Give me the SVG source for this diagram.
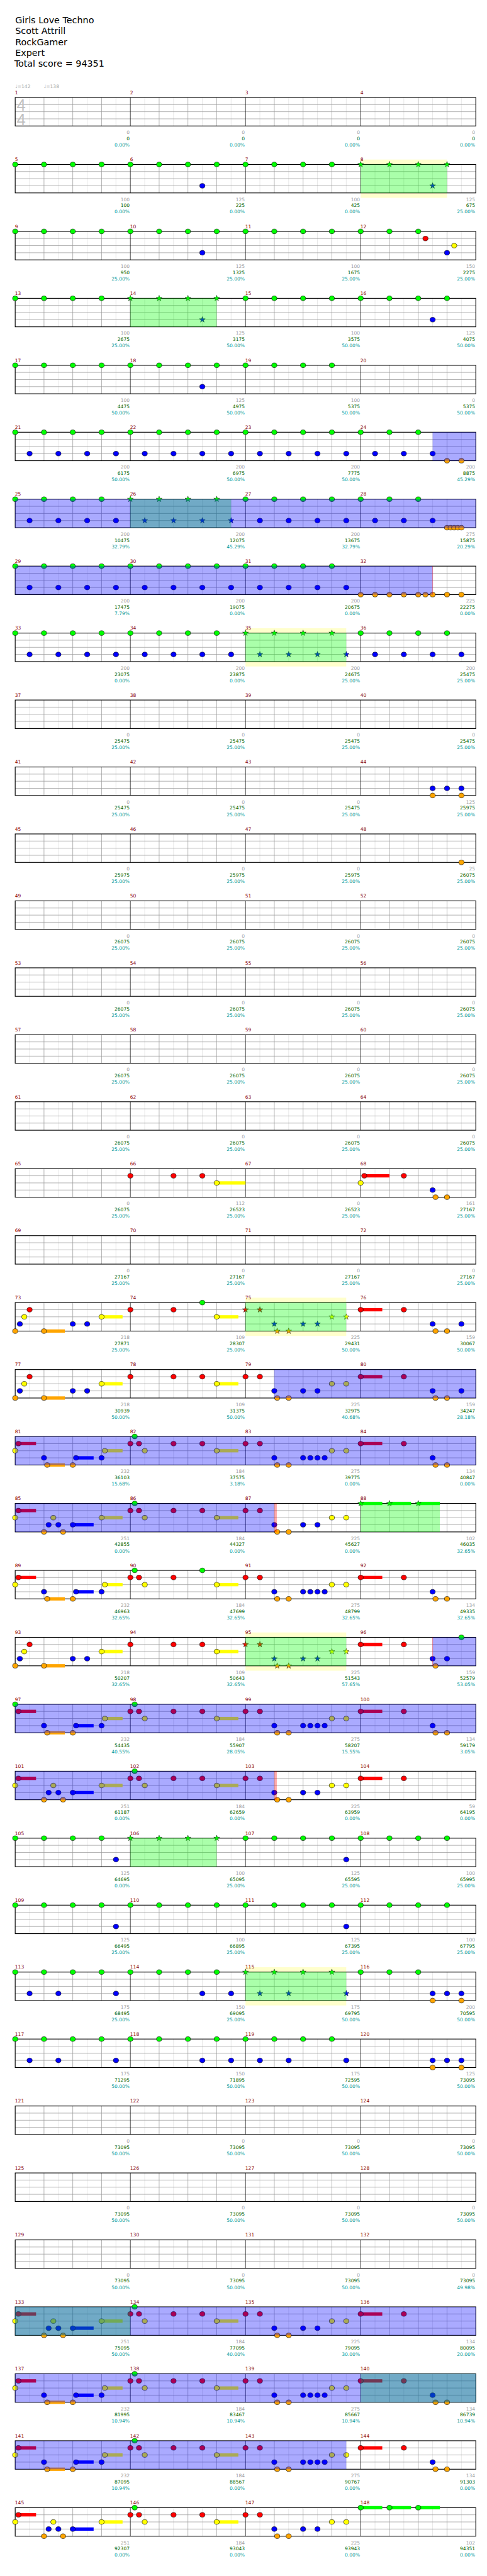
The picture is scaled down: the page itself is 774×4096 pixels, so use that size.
<svg xmlns="http://www.w3.org/2000/svg" xmlns:xlink="http://www.w3.org/1999/xlink" width="774" height="4096" viewBox="0 0 774 4096">
<style>
text{font-family:"DejaVu Sans",sans-serif}
.t{font-size:19px;fill:#000}
.mn{font-size:10px;fill:#8b0000}
.gr{font-size:10px;fill:#a0a0a0;text-anchor:end}
.gn{font-size:10px;fill:#006400;text-anchor:end}
.pc{font-size:10px;fill:#009999;text-anchor:end}
.tp{font-size:10px;fill:#aaa}
.ts{font-family:"Liberation Sans",sans-serif;font-size:34px;fill:#c0c0c0}
.g{fill:#00ff00}.r{fill:#ff0000}.y{fill:#ffff00}.b{fill:#0000ff}.o{fill:#ffa500}
.sp{fill:#00ff00;fill-opacity:.333}
.od{fill:#0000ff;fill-opacity:.333}
.yb{fill:#ffff00;fill-opacity:.2}
.pk{fill:#ff0000;fill-opacity:.333}
</style>
<defs>
<g id="staff">
<path d="M62.3 0V60M122.9 0V60M183.5 0V60M244.1 0V60M304.7 0V60M365.3 0V60M425.9 0V60M486.5 0V60M547.1 0V60M607.7 0V60M668.3 0V60M728.9 0V60M789.5 0V60M850.1 0V60M910.7 0V60M971.3 0V60" stroke="#e0e0e0" stroke-width="1" fill="none"/>
<path d="M92.6 0V60M153.2 0V60M213.8 0V60M335 0V60M395.6 0V60M456.2 0V60M577.4 0V60M638 0V60M698.6 0V60M819.8 0V60M880.4 0V60M941 0V60" stroke="#999" stroke-width="1" fill="none"/>
<path d="M32 15H1001.6M32 30H1001.6M32 45H1001.6" stroke="#999" stroke-width="1" fill="none"/>
<path d="M274.4 0V60M516.8 0V60M759.2 0V60" stroke="#000" stroke-width="1" fill="none"/>
<rect x="32" y="0" width="969.6" height="60" fill="none" stroke="#000" stroke-width="1.5"/>
</g>
<ellipse id="c" cx="0" cy="0" rx="5.5" ry="5" stroke="#000" stroke-width=".8"/>
<path id="s" d="M0,-6.5L1.53,-2.1 6.18,-2.01 2.47,.8 3.82,5.26 0,2.6 -3.82,5.26 -2.47,.8 -6.18,-2.01 -1.53,-2.1Z" stroke="#000" stroke-width=".6"/>
<g id="G4"><use href="#c" x="32"/><use href="#c" x="92.6"/><use href="#c" x="153.2"/><use href="#c" x="213.8"/></g>
<g id="S4"><use href="#s" x="32"/><use href="#s" x="92.6"/><use href="#s" x="153.2"/><use href="#s" x="213.8"/></g>
<g id="B4"><use href="#c" x="62.3" y="45"/><use href="#c" x="122.9" y="45"/><use href="#c" x="183.5" y="45"/><use href="#c" x="244.1" y="45"/></g>
<g id="BS4"><use href="#s" x="62.3" y="45"/><use href="#s" x="122.9" y="45"/><use href="#s" x="183.5" y="45"/><use href="#s" x="244.1" y="45"/></g>
<g id="pA">
<rect class="r" x="38.7" y="11.5" width="37.2" height="7"/><rect class="r" x="759.2" y="11.5" width="45.5" height="7"/>
<rect class="y" x="220.6" y="26.5" width="37.4" height="7"/><rect class="y" x="456.2" y="26.5" width="45.5" height="7"/>
<rect class="b" x="160" y="41.5" width="37.1" height="7"/><rect class="o" x="99.3" y="56.5" width="37.2" height="7"/>
<use href="#c" class="g" x="283.5"/>
<use href="#c" class="r" x="38.7" y="15"/><use href="#c" class="r" x="274.4" y="15"/><use href="#c" class="r" x="292.6" y="15"/><use href="#c" class="r" x="365.3" y="15"/><use href="#c" class="r" x="516.8" y="15"/><use href="#c" class="r" x="547.1" y="15"/><use href="#c" class="r" x="759.2" y="15"/><use href="#c" class="r" x="850.1" y="15"/>
<use href="#c" class="y" x="220.6" y="30"/><use href="#c" class="y" x="304.7" y="30"/><use href="#c" class="y" x="456.2" y="30"/><use href="#c" class="y" x="698.6" y="30"/><use href="#c" class="y" x="728.9" y="30"/>
<use href="#c" class="b" x="92.6" y="45"/><use href="#c" class="b" x="160" y="45"/><use href="#c" class="b" x="213.8" y="45"/><use href="#c" class="b" x="577.4" y="45"/><use href="#c" class="b" x="638" y="45"/><use href="#c" class="b" x="653.2" y="45"/><use href="#c" class="b" x="668.3" y="45"/><use href="#c" class="b" x="683.5" y="45"/><use href="#c" class="b" x="910.7" y="45"/>
<use href="#c" class="o" x="99.3" y="60"/><use href="#c" class="o" x="153.2" y="60"/><use href="#c" class="o" x="583.5" y="60"/><use href="#c" class="o" x="607.7" y="60"/><use href="#c" class="o" x="916.8" y="60"/><use href="#c" class="o" x="941" y="60"/>
</g>
<g id="pB">
<rect class="r" x="38.7" y="11.5" width="37.2" height="7"/>
<rect class="y" x="213.8" y="26.5" width="44.2" height="7"/><rect class="y" x="456.2" y="26.5" width="45.5" height="7"/>
<rect class="b" x="153.2" y="41.5" width="43.9" height="7"/>
<use href="#c" class="g" x="283.5"/>
<use href="#c" class="r" x="38.7" y="15"/><use href="#c" class="r" x="274.4" y="15"/><use href="#c" class="r" x="292.6" y="15"/><use href="#c" class="r" x="365.3" y="15"/><use href="#c" class="r" x="425.9" y="15"/><use href="#c" class="r" x="516.8" y="15"/><use href="#c" class="r" x="547.1" y="15"/>
<use href="#c" class="y" x="32" y="30"/><use href="#c" class="y" x="112.3" y="30"/><use href="#c" class="y" x="213.8" y="30"/><use href="#c" class="y" x="304.7" y="30"/><use href="#c" class="y" x="456.2" y="30"/><use href="#c" class="y" x="698.6" y="30"/><use href="#c" class="y" x="728.9" y="30"/>
<use href="#c" class="b" x="102.4" y="45"/><use href="#c" class="b" x="122.9" y="45"/><use href="#c" class="b" x="153.2" y="45"/><use href="#c" class="b" x="577.4" y="45"/><use href="#c" class="b" x="638" y="45"/><use href="#c" class="b" x="668.3" y="45"/>
<use href="#c" class="o" x="92.6" y="60"/><use href="#c" class="o" x="132.7" y="60"/><use href="#c" class="o" x="583.5" y="60"/><use href="#c" class="o" x="607.7" y="60"/>
</g>
<g id="pC">
<rect class="r" x="759.2" y="11.5" width="45.5" height="7"/><rect class="y" x="213.8" y="26.5" width="44.2" height="7"/><rect class="y" x="456.2" y="26.5" width="45.5" height="7"/><rect class="o" x="92.6" y="56.5" width="43.9" height="7"/>
<use href="#c" class="r" x="62.3" y="15"/><use href="#c" class="r" x="274.4" y="15"/><use href="#c" class="r" x="365.3" y="15"/><use href="#c" class="r" x="759.2" y="15"/><use href="#c" class="r" x="850.1" y="15"/>
<use href="#c" class="y" x="51.1" y="30"/><use href="#c" class="y" x="213.8" y="30"/><use href="#c" class="y" x="456.2" y="30"/>
<use href="#c" class="b" x="41.8" y="45"/><use href="#c" class="b" x="153.2" y="45"/><use href="#c" class="b" x="183.5" y="45"/><use href="#c" class="b" x="910.7" y="45"/>
<use href="#c" class="o" x="32" y="60"/><use href="#c" class="o" x="92.6" y="60"/><use href="#c" class="o" x="916.8" y="60"/>
</g>
</defs>
<rect width="774" height="4096" fill="#fff"/>
<g transform="scale(0.755)">
<g id="header">
<text class="t" x="32" y="49">Girls Love Techno</text>
<text class="t" x="32" y="72">Scott Attrill</text>
<text class="t" x="32" y="95">RockGamer</text>
<text class="t" x="32" y="118">Expert</text>
<text class="t" x="30" y="141">Total score = 94351</text>
</g>

<g id="row1" transform="translate(0,205.3)">
<text class="tp" x="32" y="-20.3">♩=142</text><text class="tp" x="92.3" y="-20.3">♩=138</text>
<text class="mn" y="-7"><tspan x="31.5">1</tspan><tspan x="273.9">2</tspan><tspan x="516.3">3</tspan><tspan x="758.7">4</tspan></text>
<use href="#staff"/>
<text class="ts" x="35" y="28">4</text><text class="ts" x="35" y="58">4</text>
<text class="gr" y="77"><tspan x="272.9">0</tspan><tspan x="515.3">0</tspan><tspan x="757.7">0</tspan><tspan x="1000.1">0</tspan></text>
<text class="gn" y="90"><tspan x="272.9">0</tspan><tspan x="515.3">0</tspan><tspan x="757.7">0</tspan><tspan x="1000.1">0</tspan></text>
<text class="pc" y="103.3"><tspan x="272.9">0.00%</tspan><tspan x="515.3">0.00%</tspan><tspan x="757.7">0.00%</tspan><tspan x="1000.1">0.00%</tspan></text>
</g>

<g id="row2" transform="translate(0,346.3)">
<rect class="yb" x="759.2" y="-10.3" width="181.8" height="10.3"/><rect class="yb" x="759.2" y="60" width="181.8" height="10.3"/>
<text class="mn" y="-7"><tspan x="31.5">5</tspan><tspan x="273.9">6</tspan><tspan x="516.3">7</tspan><tspan x="758.7">8</tspan></text>
<use href="#staff"/>
<use href="#G4" class="g"/><use href="#G4" class="g" x="242.4"/><use href="#G4" class="g" x="484.8"/><use href="#S4" class="g" x="727.2"/>
<use href="#c" class="b" x="425.9" y="45"/><use href="#s" class="b" x="910.7" y="45"/>
<rect class="sp" x="759.2" y="0" width="181.8" height="60"/>
<text class="gr" y="77"><tspan x="272.9">100</tspan><tspan x="515.3">125</tspan><tspan x="757.7">100</tspan><tspan x="1000.1">125</tspan></text>
<text class="gn" y="90"><tspan x="272.9">100</tspan><tspan x="515.3">225</tspan><tspan x="757.7">425</tspan><tspan x="1000.1">675</tspan></text>
<text class="pc" y="103.3"><tspan x="272.9">0.00%</tspan><tspan x="515.3">0.00%</tspan><tspan x="757.7">0.00%</tspan><tspan x="1000.1">25.00%</tspan></text>
</g>

<g id="row3" transform="translate(0,487.3)">
<text class="mn" y="-7"><tspan x="31.5">9</tspan><tspan x="273.9">10</tspan><tspan x="516.3">11</tspan><tspan x="758.7">12</tspan></text>
<use href="#staff"/>
<use href="#G4" class="g"/><use href="#G4" class="g" x="242.4"/><use href="#G4" class="g" x="484.8"/>
<use href="#c" class="g" x="759.2"/><use href="#c" class="g" x="819.8"/><use href="#c" class="g" x="880.4"/>
<use href="#c" class="r" x="895.6" y="15"/><use href="#c" class="y" x="956.2" y="30"/>
<use href="#c" class="b" x="425.9" y="45"/><use href="#c" class="b" x="941" y="45"/>
<text class="gr" y="77"><tspan x="272.9">100</tspan><tspan x="515.3">125</tspan><tspan x="757.7">100</tspan><tspan x="1000.1">150</tspan></text>
<text class="gn" y="90"><tspan x="272.9">950</tspan><tspan x="515.3">1325</tspan><tspan x="757.7">1675</tspan><tspan x="1000.1">2275</tspan></text>
<text class="pc" y="103.3"><tspan x="272.9">25.00%</tspan><tspan x="515.3">25.00%</tspan><tspan x="757.7">25.00%</tspan><tspan x="1000.1">25.00%</tspan></text>
</g>

<g id="row4" transform="translate(0,628.3)">
<text class="mn" y="-7"><tspan x="31.5">13</tspan><tspan x="273.9">14</tspan><tspan x="516.3">15</tspan><tspan x="758.7">16</tspan></text>
<use href="#staff"/>
<use href="#G4" class="g"/><use href="#S4" class="g" x="242.4"/><use href="#G4" class="g" x="484.8"/><use href="#G4" class="g" x="727.2"/>
<use href="#s" class="b" x="425.9" y="45"/><use href="#c" class="b" x="910.7" y="45"/>
<rect class="sp" x="274.4" y="0" width="181.8" height="60"/>
<text class="gr" y="77"><tspan x="272.9">100</tspan><tspan x="515.3">125</tspan><tspan x="757.7">100</tspan><tspan x="1000.1">125</tspan></text>
<text class="gn" y="90"><tspan x="272.9">2675</tspan><tspan x="515.3">3175</tspan><tspan x="757.7">3575</tspan><tspan x="1000.1">4075</tspan></text>
<text class="pc" y="103.3"><tspan x="272.9">25.00%</tspan><tspan x="515.3">50.00%</tspan><tspan x="757.7">50.00%</tspan><tspan x="1000.1">50.00%</tspan></text>
</g>

<g id="row5" transform="translate(0,769.3)">
<text class="mn" y="-7"><tspan x="31.5">17</tspan><tspan x="273.9">18</tspan><tspan x="516.3">19</tspan><tspan x="758.7">20</tspan></text>
<use href="#staff"/>
<use href="#G4" class="g"/><use href="#G4" class="g" x="242.4"/><use href="#G4" class="g" x="484.8"/>
<use href="#c" class="b" x="425.9" y="45"/>
<text class="gr" y="77"><tspan x="272.9">100</tspan><tspan x="515.3">125</tspan><tspan x="757.7">100</tspan><tspan x="1000.1">0</tspan></text>
<text class="gn" y="90"><tspan x="272.9">4475</tspan><tspan x="515.3">4975</tspan><tspan x="757.7">5375</tspan><tspan x="1000.1">5375</tspan></text>
<text class="pc" y="103.3"><tspan x="272.9">50.00%</tspan><tspan x="515.3">50.00%</tspan><tspan x="757.7">50.00%</tspan><tspan x="1000.1">50.00%</tspan></text>
</g>

<g id="row6" transform="translate(0,910.3)">
<text class="mn" y="-7"><tspan x="31.5">21</tspan><tspan x="273.9">22</tspan><tspan x="516.3">23</tspan><tspan x="758.7">24</tspan></text>
<use href="#staff"/>
<use href="#G4" class="g"/><use href="#G4" class="g" x="242.4"/><use href="#G4" class="g" x="484.8"/>
<use href="#c" class="g" x="759.2"/><use href="#c" class="g" x="819.8"/><use href="#c" class="g" x="880.4"/>
<use href="#B4" class="b"/><use href="#B4" class="b" x="242.4"/><use href="#B4" class="b" x="484.8"/>
<use href="#c" class="b" x="789.5" y="45"/><use href="#c" class="b" x="850.1" y="45"/><use href="#c" class="b" x="910.7" y="45"/>
<use href="#c" class="o" x="941" y="60"/><use href="#c" class="o" x="971.3" y="60"/>
<rect class="od" x="910.7" y="0" width="90.9" height="60"/>
<text class="gr" y="77"><tspan x="272.9">200</tspan><tspan x="515.3">200</tspan><tspan x="757.7">200</tspan><tspan x="1000.1">200</tspan></text>
<text class="gn" y="90"><tspan x="272.9">6175</tspan><tspan x="515.3">6975</tspan><tspan x="757.7">7775</tspan><tspan x="1000.1">8875</tspan></text>
<text class="pc" y="103.3"><tspan x="272.9">50.00%</tspan><tspan x="515.3">50.00%</tspan><tspan x="757.7">50.00%</tspan><tspan x="1000.1">45.29%</tspan></text>
</g>

<g id="row7" transform="translate(0,1051.3)">
<text class="mn" y="-7"><tspan x="31.5">25</tspan><tspan x="273.9">26</tspan><tspan x="516.3">27</tspan><tspan x="758.7">28</tspan></text>
<use href="#staff"/>
<use href="#G4" class="g"/><use href="#S4" class="g" x="242.4"/><use href="#G4" class="g" x="484.8"/>
<use href="#c" class="g" x="759.2"/><use href="#c" class="g" x="819.8"/><use href="#c" class="g" x="880.4"/>
<use href="#B4" class="b"/><use href="#BS4" class="b" x="242.4"/><use href="#B4" class="b" x="484.8"/>
<use href="#c" class="b" x="789.5" y="45"/><use href="#c" class="b" x="850.1" y="45"/><use href="#c" class="b" x="910.7" y="45"/>
<use href="#c" class="o" x="941" y="60"/><use href="#c" class="o" x="948.6" y="60"/><use href="#c" class="o" x="956.2" y="60"/><use href="#c" class="o" x="963.7" y="60"/><use href="#c" class="o" x="971.3" y="60"/>
<rect class="sp" x="274.4" y="0" width="212.1" height="60"/>
<rect class="od" x="32" y="0" width="969.6" height="60"/>
<text class="gr" y="77"><tspan x="272.9">200</tspan><tspan x="515.3">200</tspan><tspan x="757.7">200</tspan><tspan x="1000.1">275</tspan></text>
<text class="gn" y="90"><tspan x="272.9">10475</tspan><tspan x="515.3">12075</tspan><tspan x="757.7">13675</tspan><tspan x="1000.1">15875</tspan></text>
<text class="pc" y="103.3"><tspan x="272.9">32.79%</tspan><tspan x="515.3">45.29%</tspan><tspan x="757.7">32.79%</tspan><tspan x="1000.1">20.29%</tspan></text>
</g>

<g id="row8" transform="translate(0,1192.3)">
<text class="mn" y="-7"><tspan x="31.5">29</tspan><tspan x="273.9">30</tspan><tspan x="516.3">31</tspan><tspan x="758.7">32</tspan></text>
<use href="#staff"/>
<use href="#G4" class="g"/><use href="#G4" class="g" x="242.4"/><use href="#G4" class="g" x="484.8"/>
<use href="#B4" class="b"/><use href="#B4" class="b" x="242.4"/><use href="#B4" class="b" x="484.8"/>
<use href="#c" class="o" x="759.2" y="60"/><use href="#c" class="o" x="789.5" y="60"/><use href="#c" class="o" x="819.8" y="60"/><use href="#c" class="o" x="850.1" y="60"/><use href="#c" class="o" x="880.4" y="60"/><use href="#c" class="o" x="895.6" y="60"/><use href="#c" class="o" x="910.7" y="60"/><use href="#c" class="o" x="941" y="60"/><use href="#c" class="o" x="971.3" y="60"/>
<rect class="od" x="32" y="0" width="878.7" height="60"/><rect class="pk" x="909.9" y="0" width="1.6" height="60"/>
<text class="gr" y="77"><tspan x="272.9">200</tspan><tspan x="515.3">200</tspan><tspan x="757.7">200</tspan><tspan x="1000.1">225</tspan></text>
<text class="gn" y="90"><tspan x="272.9">17475</tspan><tspan x="515.3">19075</tspan><tspan x="757.7">20675</tspan><tspan x="1000.1">22275</tspan></text>
<text class="pc" y="103.3"><tspan x="272.9">7.79%</tspan><tspan x="515.3">0.00%</tspan><tspan x="757.7">0.00%</tspan><tspan x="1000.1">0.00%</tspan></text>
</g>

<g id="row9" transform="translate(0,1333.3)">
<rect class="yb" x="516.8" y="-10.3" width="212.1" height="10.3"/><rect class="yb" x="516.8" y="60" width="212.1" height="10.3"/>
<text class="mn" y="-7"><tspan x="31.5">33</tspan><tspan x="273.9">34</tspan><tspan x="516.3">35</tspan><tspan x="758.7">36</tspan></text>
<use href="#staff"/>
<use href="#G4" class="g"/><use href="#G4" class="g" x="242.4"/><use href="#S4" class="g" x="484.8"/><use href="#G4" class="g" x="727.2"/>
<use href="#B4" class="b"/><use href="#B4" class="b" x="242.4"/><use href="#BS4" class="b" x="484.8"/><use href="#B4" class="b" x="727.2"/>
<rect class="sp" x="516.8" y="0" width="212.1" height="60"/>
<text class="gr" y="77"><tspan x="272.9">200</tspan><tspan x="515.3">200</tspan><tspan x="757.7">200</tspan><tspan x="1000.1">200</tspan></text>
<text class="gn" y="90"><tspan x="272.9">23075</tspan><tspan x="515.3">23875</tspan><tspan x="757.7">24675</tspan><tspan x="1000.1">25475</tspan></text>
<text class="pc" y="103.3"><tspan x="272.9">0.00%</tspan><tspan x="515.3">0.00%</tspan><tspan x="757.7">25.00%</tspan><tspan x="1000.1">25.00%</tspan></text>
</g>

<g id="row10" transform="translate(0,1474.3)">
<text class="mn" y="-7"><tspan x="31.5">37</tspan><tspan x="273.9">38</tspan><tspan x="516.3">39</tspan><tspan x="758.7">40</tspan></text>
<use href="#staff"/>
<text class="gr" y="77"><tspan x="272.9">0</tspan><tspan x="515.3">0</tspan><tspan x="757.7">0</tspan><tspan x="1000.1">0</tspan></text>
<text class="gn" y="90"><tspan x="272.9">25475</tspan><tspan x="515.3">25475</tspan><tspan x="757.7">25475</tspan><tspan x="1000.1">25475</tspan></text>
<text class="pc" y="103.3"><tspan x="272.9">25.00%</tspan><tspan x="515.3">25.00%</tspan><tspan x="757.7">25.00%</tspan><tspan x="1000.1">25.00%</tspan></text>
</g>

<g id="row11" transform="translate(0,1615.3)">
<text class="mn" y="-7"><tspan x="31.5">41</tspan><tspan x="273.9">42</tspan><tspan x="516.3">43</tspan><tspan x="758.7">44</tspan></text>
<use href="#staff"/>
<use href="#c" class="b" x="910.7" y="45"/><use href="#c" class="b" x="941" y="45"/><use href="#c" class="b" x="971.3" y="45"/>
<use href="#c" class="o" x="910.7" y="60"/><use href="#c" class="o" x="971.3" y="60"/>
<text class="gr" y="77"><tspan x="272.9">0</tspan><tspan x="515.3">0</tspan><tspan x="757.7">0</tspan><tspan x="1000.1">125</tspan></text>
<text class="gn" y="90"><tspan x="272.9">25475</tspan><tspan x="515.3">25475</tspan><tspan x="757.7">25475</tspan><tspan x="1000.1">25975</tspan></text>
<text class="pc" y="103.3"><tspan x="272.9">25.00%</tspan><tspan x="515.3">25.00%</tspan><tspan x="757.7">25.00%</tspan><tspan x="1000.1">25.00%</tspan></text>
</g>

<g id="row12" transform="translate(0,1756.3)">
<text class="mn" y="-7"><tspan x="31.5">45</tspan><tspan x="273.9">46</tspan><tspan x="516.3">47</tspan><tspan x="758.7">48</tspan></text>
<use href="#staff"/>
<use href="#c" class="o" x="971.3" y="60"/>
<text class="gr" y="77"><tspan x="272.9">0</tspan><tspan x="515.3">0</tspan><tspan x="757.7">0</tspan><tspan x="1000.1">25</tspan></text>
<text class="gn" y="90"><tspan x="272.9">25975</tspan><tspan x="515.3">25975</tspan><tspan x="757.7">25975</tspan><tspan x="1000.1">26075</tspan></text>
<text class="pc" y="103.3"><tspan x="272.9">25.00%</tspan><tspan x="515.3">25.00%</tspan><tspan x="757.7">25.00%</tspan><tspan x="1000.1">25.00%</tspan></text>
</g>

<g id="row13" transform="translate(0,1897.3)">
<text class="mn" y="-7"><tspan x="31.5">49</tspan><tspan x="273.9">50</tspan><tspan x="516.3">51</tspan><tspan x="758.7">52</tspan></text>
<use href="#staff"/>
<text class="gr" y="77"><tspan x="272.9">0</tspan><tspan x="515.3">0</tspan><tspan x="757.7">0</tspan><tspan x="1000.1">0</tspan></text>
<text class="gn" y="90"><tspan x="272.9">26075</tspan><tspan x="515.3">26075</tspan><tspan x="757.7">26075</tspan><tspan x="1000.1">26075</tspan></text>
<text class="pc" y="103.3"><tspan x="272.9">25.00%</tspan><tspan x="515.3">25.00%</tspan><tspan x="757.7">25.00%</tspan><tspan x="1000.1">25.00%</tspan></text>
</g>

<g id="row14" transform="translate(0,2038.3)">
<text class="mn" y="-7"><tspan x="31.5">53</tspan><tspan x="273.9">54</tspan><tspan x="516.3">55</tspan><tspan x="758.7">56</tspan></text>
<use href="#staff"/>
<text class="gr" y="77"><tspan x="272.9">0</tspan><tspan x="515.3">0</tspan><tspan x="757.7">0</tspan><tspan x="1000.1">0</tspan></text>
<text class="gn" y="90"><tspan x="272.9">26075</tspan><tspan x="515.3">26075</tspan><tspan x="757.7">26075</tspan><tspan x="1000.1">26075</tspan></text>
<text class="pc" y="103.3"><tspan x="272.9">25.00%</tspan><tspan x="515.3">25.00%</tspan><tspan x="757.7">25.00%</tspan><tspan x="1000.1">25.00%</tspan></text>
</g>

<g id="row15" transform="translate(0,2179.3)">
<text class="mn" y="-7"><tspan x="31.5">57</tspan><tspan x="273.9">58</tspan><tspan x="516.3">59</tspan><tspan x="758.7">60</tspan></text>
<use href="#staff"/>
<text class="gr" y="77"><tspan x="272.9">0</tspan><tspan x="515.3">0</tspan><tspan x="757.7">0</tspan><tspan x="1000.1">0</tspan></text>
<text class="gn" y="90"><tspan x="272.9">26075</tspan><tspan x="515.3">26075</tspan><tspan x="757.7">26075</tspan><tspan x="1000.1">26075</tspan></text>
<text class="pc" y="103.3"><tspan x="272.9">25.00%</tspan><tspan x="515.3">25.00%</tspan><tspan x="757.7">25.00%</tspan><tspan x="1000.1">25.00%</tspan></text>
</g>

<g id="row16" transform="translate(0,2320.3)">
<text class="mn" y="-7"><tspan x="31.5">61</tspan><tspan x="273.9">62</tspan><tspan x="516.3">63</tspan><tspan x="758.7">64</tspan></text>
<use href="#staff"/>
<text class="gr" y="77"><tspan x="272.9">0</tspan><tspan x="515.3">0</tspan><tspan x="757.7">0</tspan><tspan x="1000.1">0</tspan></text>
<text class="gn" y="90"><tspan x="272.9">26075</tspan><tspan x="515.3">26075</tspan><tspan x="757.7">26075</tspan><tspan x="1000.1">26075</tspan></text>
<text class="pc" y="103.3"><tspan x="272.9">25.00%</tspan><tspan x="515.3">25.00%</tspan><tspan x="757.7">25.00%</tspan><tspan x="1000.1">25.00%</tspan></text>
</g>

<g id="row17" transform="translate(0,2461.3)">
<text class="mn" y="-7"><tspan x="31.5">65</tspan><tspan x="273.9">66</tspan><tspan x="516.3">67</tspan><tspan x="758.7">68</tspan></text>
<use href="#staff"/>
<rect class="y" x="456.2" y="26.5" width="60.6" height="7"/><rect class="r" x="766.8" y="11.5" width="53" height="7"/>
<use href="#c" class="r" x="274.4" y="15"/><use href="#c" class="r" x="365.3" y="15"/><use href="#c" class="r" x="425.9" y="15"/><use href="#c" class="r" x="766.8" y="15"/><use href="#c" class="r" x="850.1" y="15"/>
<use href="#c" class="y" x="456.2" y="30"/><use href="#c" class="y" x="759.2" y="30"/>
<use href="#c" class="b" x="910.7" y="45"/>
<use href="#c" class="o" x="916.8" y="60"/><use href="#c" class="o" x="941" y="60"/>
<text class="gr" y="77"><tspan x="272.9">0</tspan><tspan x="515.3">112</tspan><tspan x="757.7">0</tspan><tspan x="1000.1">161</tspan></text>
<text class="gn" y="90"><tspan x="272.9">26075</tspan><tspan x="515.3">26523</tspan><tspan x="757.7">26523</tspan><tspan x="1000.1">27167</tspan></text>
<text class="pc" y="103.3"><tspan x="272.9">25.00%</tspan><tspan x="515.3">25.00%</tspan><tspan x="757.7">25.00%</tspan><tspan x="1000.1">25.00%</tspan></text>
</g>

<g id="row18" transform="translate(0,2602.3)">
<text class="mn" y="-7"><tspan x="31.5">69</tspan><tspan x="273.9">70</tspan><tspan x="516.3">71</tspan><tspan x="758.7">72</tspan></text>
<use href="#staff"/>
<text class="gr" y="77"><tspan x="272.9">0</tspan><tspan x="515.3">0</tspan><tspan x="757.7">0</tspan><tspan x="1000.1">0</tspan></text>
<text class="gn" y="90"><tspan x="272.9">27167</tspan><tspan x="515.3">27167</tspan><tspan x="757.7">27167</tspan><tspan x="1000.1">27167</tspan></text>
<text class="pc" y="103.3"><tspan x="272.9">25.00%</tspan><tspan x="515.3">25.00%</tspan><tspan x="757.7">25.00%</tspan><tspan x="1000.1">25.00%</tspan></text>
</g>

<g id="row19" transform="translate(0,2743.3)">
<rect class="yb" x="516.8" y="-10.3" width="212.1" height="10.3"/><rect class="yb" x="516.8" y="60" width="212.1" height="10.3"/>
<text class="mn" y="-7"><tspan x="31.5">73</tspan><tspan x="273.9">74</tspan><tspan x="516.3">75</tspan><tspan x="758.7">76</tspan></text>
<use href="#staff"/>
<use href="#pC"/>
<use href="#c" class="g" x="425.9"/>
<use href="#s" class="r" x="516.8" y="15"/><use href="#s" class="r" x="547.1" y="15"/>
<use href="#s" class="y" x="698.6" y="30"/><use href="#s" class="y" x="728.9" y="30"/>
<use href="#s" class="b" x="577.4" y="45"/><use href="#s" class="b" x="638" y="45"/><use href="#s" class="b" x="668.3" y="45"/><use href="#c" class="b" x="971.3" y="45"/>
<use href="#s" class="o" x="583.5" y="60"/><use href="#s" class="o" x="607.7" y="60"/><use href="#c" class="o" x="941" y="60"/>
<rect class="sp" x="516.8" y="0" width="212.1" height="60"/>
<text class="gr" y="77"><tspan x="272.9">218</tspan><tspan x="515.3">109</tspan><tspan x="757.7">225</tspan><tspan x="1000.1">159</tspan></text>
<text class="gn" y="90"><tspan x="272.9">27871</tspan><tspan x="515.3">28307</tspan><tspan x="757.7">29431</tspan><tspan x="1000.1">30067</tspan></text>
<text class="pc" y="103.3"><tspan x="272.9">25.00%</tspan><tspan x="515.3">25.00%</tspan><tspan x="757.7">50.00%</tspan><tspan x="1000.1">50.00%</tspan></text>
</g>

<g id="row20" transform="translate(0,2884.3)">
<text class="mn" y="-7"><tspan x="31.5">77</tspan><tspan x="273.9">78</tspan><tspan x="516.3">79</tspan><tspan x="758.7">80</tspan></text>
<use href="#staff"/>
<use href="#pC"/>
<use href="#c" class="r" x="425.9" y="15"/><use href="#c" class="r" x="516.8" y="15"/><use href="#c" class="r" x="547.1" y="15"/>
<use href="#c" class="y" x="698.6" y="30"/><use href="#c" class="y" x="728.9" y="30"/>
<use href="#c" class="b" x="577.4" y="45"/><use href="#c" class="b" x="638" y="45"/><use href="#c" class="b" x="668.3" y="45"/><use href="#c" class="b" x="971.3" y="45"/>
<use href="#c" class="o" x="583.5" y="60"/><use href="#c" class="o" x="607.7" y="60"/><use href="#c" class="o" x="941" y="60"/>
<rect class="od" x="577.4" y="0" width="424.2" height="60"/>
<text class="gr" y="77"><tspan x="272.9">218</tspan><tspan x="515.3">109</tspan><tspan x="757.7">225</tspan><tspan x="1000.1">159</tspan></text>
<text class="gn" y="90"><tspan x="272.9">30939</tspan><tspan x="515.3">31375</tspan><tspan x="757.7">32975</tspan><tspan x="1000.1">34247</tspan></text>
<text class="pc" y="103.3"><tspan x="272.9">50.00%</tspan><tspan x="515.3">50.00%</tspan><tspan x="757.7">40.68%</tspan><tspan x="1000.1">28.18%</tspan></text>
</g>

<g id="row21" transform="translate(0,3025.3)">
<text class="mn" y="-7"><tspan x="31.5">81</tspan><tspan x="273.9">82</tspan><tspan x="516.3">83</tspan><tspan x="758.7">84</tspan></text>
<use href="#staff"/>
<use href="#pA"/><use href="#c" class="r" x="425.9" y="15"/><use href="#c" class="y" x="32" y="30"/>
<rect class="od" x="32" y="0" width="969.6" height="60"/>
<text class="gr" y="77"><tspan x="272.9">232</tspan><tspan x="515.3">184</tspan><tspan x="757.7">275</tspan><tspan x="1000.1">134</tspan></text>
<text class="gn" y="90"><tspan x="272.9">36103</tspan><tspan x="515.3">37575</tspan><tspan x="757.7">39775</tspan><tspan x="1000.1">40847</tspan></text>
<text class="pc" y="103.3"><tspan x="272.9">15.68%</tspan><tspan x="515.3">3.18%</tspan><tspan x="757.7">0.00%</tspan><tspan x="1000.1">0.00%</tspan></text>
</g>

<g id="row22" transform="translate(0,3166.3)">
<text class="mn" y="-7"><tspan x="31.5">85</tspan><tspan x="273.9">86</tspan><tspan x="516.3">87</tspan><tspan x="758.7">88</tspan></text>
<use href="#staff"/>
<use href="#pB"/>
<rect class="g" x="759.2" y="-3.5" width="45.5" height="7"/><rect class="g" x="819.8" y="-3.5" width="45.5" height="7"/><rect class="g" x="880.4" y="-3.5" width="45.5" height="7"/>
<use href="#s" class="g" x="759.2"/><use href="#s" class="g" x="819.8"/><use href="#s" class="g" x="880.4"/>
<rect class="sp" x="759.2" y="0" width="166.7" height="60"/>
<rect class="od" x="32" y="0" width="545.4" height="60"/><rect class="pk" x="577.4" y="0" width="5.3" height="60"/>
<text class="gr" y="77"><tspan x="272.9">251</tspan><tspan x="515.3">184</tspan><tspan x="757.7">225</tspan><tspan x="1000.1">102</tspan></text>
<text class="gn" y="90"><tspan x="272.9">42855</tspan><tspan x="515.3">44327</tspan><tspan x="757.7">45627</tspan><tspan x="1000.1">46035</tspan></text>
<text class="pc" y="103.3"><tspan x="272.9">0.00%</tspan><tspan x="515.3">0.00%</tspan><tspan x="757.7">0.00%</tspan><tspan x="1000.1">32.65%</tspan></text>
</g>

<g id="row23" transform="translate(0,3307.3)">
<text class="mn" y="-7"><tspan x="31.5">89</tspan><tspan x="273.9">90</tspan><tspan x="516.3">91</tspan><tspan x="758.7">92</tspan></text>
<use href="#staff"/>
<use href="#pA"/><use href="#c" class="g" x="425.9"/><use href="#c" class="y" x="32" y="30"/>
<text class="gr" y="77"><tspan x="272.9">232</tspan><tspan x="515.3">184</tspan><tspan x="757.7">275</tspan><tspan x="1000.1">134</tspan></text>
<text class="gn" y="90"><tspan x="272.9">46963</tspan><tspan x="515.3">47699</tspan><tspan x="757.7">48799</tspan><tspan x="1000.1">49335</tspan></text>
<text class="pc" y="103.3"><tspan x="272.9">32.65%</tspan><tspan x="515.3">32.65%</tspan><tspan x="757.7">32.65%</tspan><tspan x="1000.1">32.65%</tspan></text>
</g>

<g id="row24" transform="translate(0,3448.3)">
<rect class="yb" x="516.8" y="-10.3" width="212.1" height="10.3"/><rect class="yb" x="516.8" y="60" width="212.1" height="10.3"/>
<text class="mn" y="-7"><tspan x="31.5">93</tspan><tspan x="273.9">94</tspan><tspan x="516.3">95</tspan><tspan x="758.7">96</tspan></text>
<use href="#staff"/>
<use href="#pC"/>
<use href="#c" class="g" x="971.3"/>
<use href="#c" class="r" x="425.9" y="15"/><use href="#s" class="r" x="516.8" y="15"/><use href="#s" class="r" x="547.1" y="15"/>
<use href="#s" class="y" x="698.6" y="30"/><use href="#s" class="y" x="728.9" y="30"/>
<use href="#s" class="b" x="577.4" y="45"/><use href="#s" class="b" x="638" y="45"/><use href="#s" class="b" x="668.3" y="45"/><use href="#c" class="b" x="941" y="45"/>
<use href="#s" class="o" x="583.5" y="60"/><use href="#s" class="o" x="607.7" y="60"/>
<rect class="sp" x="516.8" y="0" width="212.1" height="60"/>
<rect class="od" x="910.7" y="0" width="90.9" height="60"/><rect class="pk" x="909.9" y="0" width="1.6" height="60"/>
<text class="gr" y="77"><tspan x="272.9">218</tspan><tspan x="515.3">109</tspan><tspan x="757.7">225</tspan><tspan x="1000.1">159</tspan></text>
<text class="gn" y="90"><tspan x="272.9">50207</tspan><tspan x="515.3">50643</tspan><tspan x="757.7">51543</tspan><tspan x="1000.1">52579</tspan></text>
<text class="pc" y="103.3"><tspan x="272.9">32.65%</tspan><tspan x="515.3">32.65%</tspan><tspan x="757.7">57.65%</tspan><tspan x="1000.1">53.05%</tspan></text>
</g>

<g id="row25" transform="translate(0,3589.3)">
<text class="mn" y="-7"><tspan x="31.5">97</tspan><tspan x="273.9">98</tspan><tspan x="516.3">99</tspan><tspan x="758.7">100</tspan></text>
<use href="#staff"/>
<use href="#pA"/><use href="#c" class="r" x="425.9" y="15"/><use href="#c" class="g" x="32"/>
<rect class="od" x="32" y="0" width="969.6" height="60"/>
<text class="gr" y="77"><tspan x="272.9">232</tspan><tspan x="515.3">184</tspan><tspan x="757.7">275</tspan><tspan x="1000.1">134</tspan></text>
<text class="gn" y="90"><tspan x="272.9">54435</tspan><tspan x="515.3">55907</tspan><tspan x="757.7">58207</tspan><tspan x="1000.1">59179</tspan></text>
<text class="pc" y="103.3"><tspan x="272.9">40.55%</tspan><tspan x="515.3">28.05%</tspan><tspan x="757.7">15.55%</tspan><tspan x="1000.1">3.05%</tspan></text>
</g>

<g id="row26" transform="translate(0,3730.3)">
<text class="mn" y="-7"><tspan x="31.5">101</tspan><tspan x="273.9">102</tspan><tspan x="516.3">103</tspan><tspan x="758.7">104</tspan></text>
<use href="#staff"/>
<use href="#pB"/>
<rect class="r" x="759.2" y="11.5" width="45.5" height="7"/><use href="#c" class="r" x="759.2" y="15"/><use href="#c" class="r" x="850.1" y="15"/>
<rect class="od" x="32" y="0" width="545.4" height="60"/><rect class="pk" x="577.4" y="0" width="5.3" height="60"/>
<text class="gr" y="77"><tspan x="272.9">251</tspan><tspan x="515.3">184</tspan><tspan x="757.7">225</tspan><tspan x="1000.1">59</tspan></text>
<text class="gn" y="90"><tspan x="272.9">61187</tspan><tspan x="515.3">62659</tspan><tspan x="757.7">63959</tspan><tspan x="1000.1">64195</tspan></text>
<text class="pc" y="103.3"><tspan x="272.9">0.00%</tspan><tspan x="515.3">0.00%</tspan><tspan x="757.7">0.00%</tspan><tspan x="1000.1">0.00%</tspan></text>
</g>

<g id="row27" transform="translate(0,3871.3)">
<text class="mn" y="-7"><tspan x="31.5">105</tspan><tspan x="273.9">106</tspan><tspan x="516.3">107</tspan><tspan x="758.7">108</tspan></text>
<use href="#staff"/>
<use href="#G4" class="g"/><use href="#S4" class="g" x="242.4"/><use href="#G4" class="g" x="484.8"/><use href="#G4" class="g" x="727.2"/>
<use href="#c" class="b" x="244.1" y="45"/><use href="#c" class="b" x="728.9" y="45"/>
<rect class="sp" x="274.4" y="0" width="181.8" height="60"/>
<text class="gr" y="77"><tspan x="272.9">125</tspan><tspan x="515.3">100</tspan><tspan x="757.7">125</tspan><tspan x="1000.1">100</tspan></text>
<text class="gn" y="90"><tspan x="272.9">64695</tspan><tspan x="515.3">65095</tspan><tspan x="757.7">65595</tspan><tspan x="1000.1">65995</tspan></text>
<text class="pc" y="103.3"><tspan x="272.9">0.00%</tspan><tspan x="515.3">25.00%</tspan><tspan x="757.7">25.00%</tspan><tspan x="1000.1">25.00%</tspan></text>
</g>

<g id="row28" transform="translate(0,4012.3)">
<text class="mn" y="-7"><tspan x="31.5">109</tspan><tspan x="273.9">110</tspan><tspan x="516.3">111</tspan><tspan x="758.7">112</tspan></text>
<use href="#staff"/>
<use href="#G4" class="g"/><use href="#G4" class="g" x="242.4"/><use href="#G4" class="g" x="484.8"/><use href="#G4" class="g" x="727.2"/>
<use href="#c" class="b" x="244.1" y="45"/><use href="#c" class="b" x="728.9" y="45"/>
<text class="gr" y="77"><tspan x="272.9">125</tspan><tspan x="515.3">100</tspan><tspan x="757.7">125</tspan><tspan x="1000.1">100</tspan></text>
<text class="gn" y="90"><tspan x="272.9">66495</tspan><tspan x="515.3">66895</tspan><tspan x="757.7">67395</tspan><tspan x="1000.1">67795</tspan></text>
<text class="pc" y="103.3"><tspan x="272.9">25.00%</tspan><tspan x="515.3">25.00%</tspan><tspan x="757.7">25.00%</tspan><tspan x="1000.1">25.00%</tspan></text>
</g>

<g id="row29" transform="translate(0,4153.3)">
<rect class="yb" x="516.8" y="-10.3" width="212.1" height="10.3"/><rect class="yb" x="516.8" y="60" width="212.1" height="10.3"/>
<text class="mn" y="-7"><tspan x="31.5">113</tspan><tspan x="273.9">114</tspan><tspan x="516.3">115</tspan><tspan x="758.7">116</tspan></text>
<use href="#staff"/>
<use href="#G4" class="g"/><use href="#G4" class="g" x="242.4"/><use href="#S4" class="g" x="484.8"/>
<use href="#c" class="g" x="759.2"/><use href="#c" class="g" x="819.8"/><use href="#c" class="g" x="880.4"/>
<use href="#c" class="b" x="62.3" y="45"/><use href="#c" class="b" x="122.9" y="45"/><use href="#c" class="b" x="244.1" y="45"/><use href="#c" class="b" x="425.9" y="45"/><use href="#c" class="b" x="486.5" y="45"/><use href="#s" class="b" x="547.1" y="45"/><use href="#s" class="b" x="607.7" y="45"/><use href="#s" class="b" x="728.9" y="45"/><use href="#c" class="b" x="910.7" y="45"/><use href="#c" class="b" x="941" y="45"/><use href="#c" class="b" x="971.3" y="45"/>
<use href="#c" class="o" x="910.7" y="60"/><use href="#c" class="o" x="971.3" y="60"/>
<rect class="sp" x="516.8" y="0" width="212.1" height="60"/>
<text class="gr" y="77"><tspan x="272.9">175</tspan><tspan x="515.3">150</tspan><tspan x="757.7">175</tspan><tspan x="1000.1">200</tspan></text>
<text class="gn" y="90"><tspan x="272.9">68495</tspan><tspan x="515.3">69095</tspan><tspan x="757.7">69795</tspan><tspan x="1000.1">70595</tspan></text>
<text class="pc" y="103.3"><tspan x="272.9">25.00%</tspan><tspan x="515.3">25.00%</tspan><tspan x="757.7">50.00%</tspan><tspan x="1000.1">50.00%</tspan></text>
</g>

<g id="row30" transform="translate(0,4294.3)">
<text class="mn" y="-7"><tspan x="31.5">117</tspan><tspan x="273.9">118</tspan><tspan x="516.3">119</tspan><tspan x="758.7">120</tspan></text>
<use href="#staff"/>
<use href="#G4" class="g"/><use href="#G4" class="g" x="242.4"/><use href="#G4" class="g" x="484.8"/>
<use href="#c" class="b" x="62.3" y="45"/><use href="#c" class="b" x="122.9" y="45"/><use href="#c" class="b" x="244.1" y="45"/><use href="#c" class="b" x="425.9" y="45"/><use href="#c" class="b" x="486.5" y="45"/><use href="#c" class="b" x="547.1" y="45"/><use href="#c" class="b" x="607.7" y="45"/><use href="#c" class="b" x="728.9" y="45"/><use href="#c" class="b" x="910.7" y="45"/><use href="#c" class="b" x="941" y="45"/><use href="#c" class="b" x="971.3" y="45"/>
<use href="#c" class="o" x="910.7" y="60"/><use href="#c" class="o" x="971.3" y="60"/>
<text class="gr" y="77"><tspan x="272.9">175</tspan><tspan x="515.3">150</tspan><tspan x="757.7">175</tspan><tspan x="1000.1">125</tspan></text>
<text class="gn" y="90"><tspan x="272.9">71295</tspan><tspan x="515.3">71895</tspan><tspan x="757.7">72595</tspan><tspan x="1000.1">73095</tspan></text>
<text class="pc" y="103.3"><tspan x="272.9">50.00%</tspan><tspan x="515.3">50.00%</tspan><tspan x="757.7">50.00%</tspan><tspan x="1000.1">50.00%</tspan></text>
</g>

<g id="row31" transform="translate(0,4435.3)">
<text class="mn" y="-7"><tspan x="31.5">121</tspan><tspan x="273.9">122</tspan><tspan x="516.3">123</tspan><tspan x="758.7">124</tspan></text>
<use href="#staff"/>
<text class="gr" y="77"><tspan x="272.9">0</tspan><tspan x="515.3">0</tspan><tspan x="757.7">0</tspan><tspan x="1000.1">0</tspan></text>
<text class="gn" y="90"><tspan x="272.9">73095</tspan><tspan x="515.3">73095</tspan><tspan x="757.7">73095</tspan><tspan x="1000.1">73095</tspan></text>
<text class="pc" y="103.3"><tspan x="272.9">50.00%</tspan><tspan x="515.3">50.00%</tspan><tspan x="757.7">50.00%</tspan><tspan x="1000.1">50.00%</tspan></text>
</g>

<g id="row32" transform="translate(0,4576.3)">
<text class="mn" y="-7"><tspan x="31.5">125</tspan><tspan x="273.9">126</tspan><tspan x="516.3">127</tspan><tspan x="758.7">128</tspan></text>
<use href="#staff"/>
<text class="gr" y="77"><tspan x="272.9">0</tspan><tspan x="515.3">0</tspan><tspan x="757.7">0</tspan><tspan x="1000.1">0</tspan></text>
<text class="gn" y="90"><tspan x="272.9">73095</tspan><tspan x="515.3">73095</tspan><tspan x="757.7">73095</tspan><tspan x="1000.1">73095</tspan></text>
<text class="pc" y="103.3"><tspan x="272.9">50.00%</tspan><tspan x="515.3">50.00%</tspan><tspan x="757.7">50.00%</tspan><tspan x="1000.1">50.00%</tspan></text>
</g>

<g id="row33" transform="translate(0,4717.3)">
<text class="mn" y="-7"><tspan x="31.5">129</tspan><tspan x="273.9">130</tspan><tspan x="516.3">131</tspan><tspan x="758.7">132</tspan></text>
<use href="#staff"/>
<text class="gr" y="77"><tspan x="272.9">0</tspan><tspan x="515.3">0</tspan><tspan x="757.7">0</tspan><tspan x="1000.1">0</tspan></text>
<text class="gn" y="90"><tspan x="272.9">73095</tspan><tspan x="515.3">73095</tspan><tspan x="757.7">73095</tspan><tspan x="1000.1">73095</tspan></text>
<text class="pc" y="103.3"><tspan x="272.9">50.00%</tspan><tspan x="515.3">50.00%</tspan><tspan x="757.7">50.00%</tspan><tspan x="1000.1">49.98%</tspan></text>
</g>

<g id="row34" transform="translate(0,4858.3)">
<text class="mn" y="-7"><tspan x="31.5">133</tspan><tspan x="273.9">134</tspan><tspan x="516.3">135</tspan><tspan x="758.7">136</tspan></text>
<use href="#staff"/>
<use href="#pB"/>
<rect class="r" x="759.2" y="11.5" width="45.5" height="7"/><use href="#c" class="r" x="759.2" y="15"/><use href="#c" class="r" x="850.1" y="15"/>
<rect class="sp" x="32" y="0" width="242.4" height="60"/>
<rect class="od" x="32" y="0" width="969.6" height="60"/>
<text class="gr" y="77"><tspan x="272.9">251</tspan><tspan x="515.3">184</tspan><tspan x="757.7">225</tspan><tspan x="1000.1">134</tspan></text>
<text class="gn" y="90"><tspan x="272.9">75095</tspan><tspan x="515.3">77095</tspan><tspan x="757.7">79095</tspan><tspan x="1000.1">80095</tspan></text>
<text class="pc" y="103.3"><tspan x="272.9">50.00%</tspan><tspan x="515.3">40.00%</tspan><tspan x="757.7">30.00%</tspan><tspan x="1000.1">20.00%</tspan></text>
</g>

<g id="row35" transform="translate(0,4999.3)">
<text class="mn" y="-7"><tspan x="31.5">137</tspan><tspan x="273.9">138</tspan><tspan x="516.3">139</tspan><tspan x="758.7">140</tspan></text>
<use href="#staff"/>
<use href="#pA"/><use href="#c" class="r" x="425.9" y="15"/><use href="#c" class="y" x="32" y="30"/>
<rect class="sp" x="759.2" y="0" width="242.4" height="60"/>
<rect class="od" x="32" y="0" width="969.6" height="60"/>
<text class="gr" y="77"><tspan x="272.9">232</tspan><tspan x="515.3">184</tspan><tspan x="757.7">275</tspan><tspan x="1000.1">134</tspan></text>
<text class="gn" y="90"><tspan x="272.9">81995</tspan><tspan x="515.3">83467</tspan><tspan x="757.7">85667</tspan><tspan x="1000.1">86739</tspan></text>
<text class="pc" y="103.3"><tspan x="272.9">10.94%</tspan><tspan x="515.3">10.94%</tspan><tspan x="757.7">10.94%</tspan><tspan x="1000.1">10.94%</tspan></text>
</g>

<g id="row36" transform="translate(0,5140.3)">
<text class="mn" y="-7"><tspan x="31.5">141</tspan><tspan x="273.9">142</tspan><tspan x="516.3">143</tspan><tspan x="758.7">144</tspan></text>
<use href="#staff"/>
<use href="#pA"/><use href="#c" class="r" x="425.9" y="15"/><use href="#c" class="y" x="32" y="30"/>
<rect class="od" x="32" y="0" width="696.9" height="60"/>
<text class="gr" y="77"><tspan x="272.9">232</tspan><tspan x="515.3">184</tspan><tspan x="757.7">275</tspan><tspan x="1000.1">134</tspan></text>
<text class="gn" y="90"><tspan x="272.9">87095</tspan><tspan x="515.3">88567</tspan><tspan x="757.7">90767</tspan><tspan x="1000.1">91303</tspan></text>
<text class="pc" y="103.3"><tspan x="272.9">10.94%</tspan><tspan x="515.3">0.00%</tspan><tspan x="757.7">0.00%</tspan><tspan x="1000.1">0.00%</tspan></text>
</g>

<g id="row37" transform="translate(0,5281.3)">
<text class="mn" y="-7"><tspan x="31.5">145</tspan><tspan x="273.9">146</tspan><tspan x="516.3">147</tspan><tspan x="758.7">148</tspan></text>
<use href="#staff"/>
<use href="#pB"/>
<rect class="g" x="759.2" y="-3.5" width="45.5" height="7"/><rect class="g" x="819.8" y="-3.5" width="45.5" height="7"/><rect class="g" x="880.4" y="-3.5" width="45.5" height="7"/>
<use href="#c" class="g" x="759.2"/><use href="#c" class="g" x="819.8"/><use href="#c" class="g" x="880.4"/>
<text class="gr" y="77"><tspan x="272.9">251</tspan><tspan x="515.3">184</tspan><tspan x="757.7">225</tspan><tspan x="1000.1">102</tspan></text>
<text class="gn" y="90"><tspan x="272.9">92307</tspan><tspan x="515.3">93043</tspan><tspan x="757.7">93943</tspan><tspan x="1000.1">94351</tspan></text>
<text class="pc" y="103.3"><tspan x="272.9">0.00%</tspan><tspan x="515.3">0.00%</tspan><tspan x="757.7">0.00%</tspan><tspan x="1000.1">0.00%</tspan></text>
</g>
</g>
</svg>
